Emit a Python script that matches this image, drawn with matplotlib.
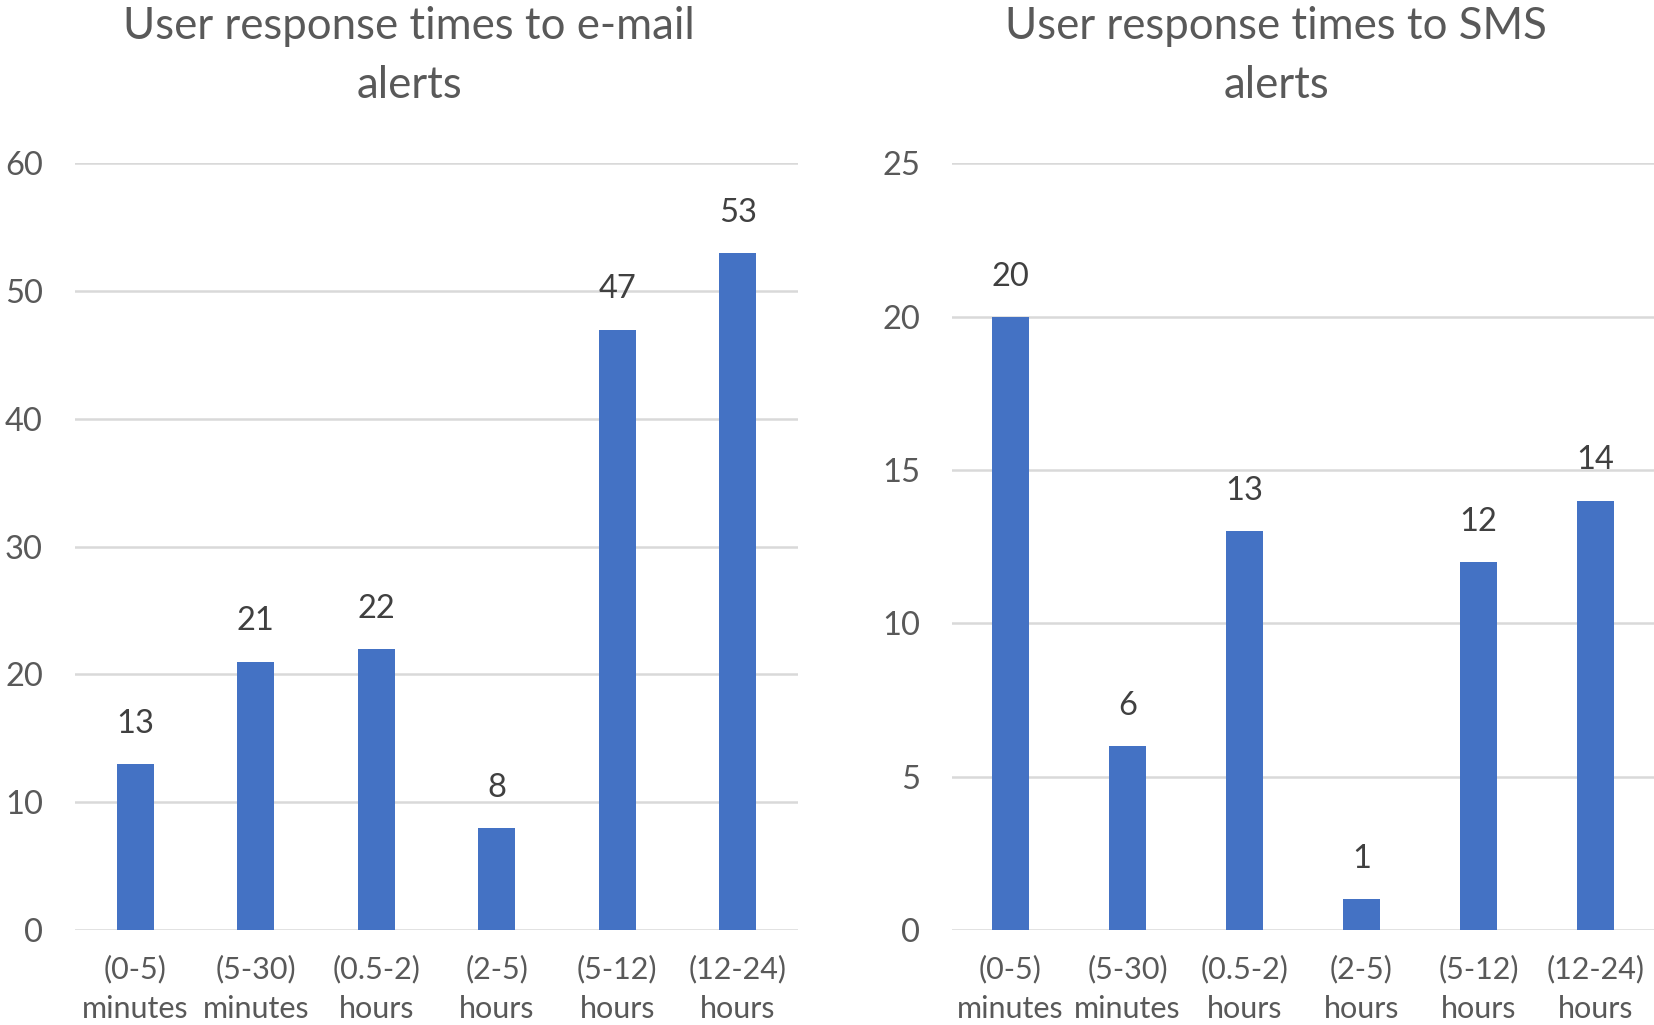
import matplotlib
matplotlib.use("Agg")
import matplotlib.pyplot as plt

plt.rcParams['font.family'] = ['Lato', 'DejaVu Sans']

categories = ["(0-5)\nminutes", "(5-30)\nminutes", "(0.5-2)\nhours",
              "(2-5)\nhours", "(5-12)\nhours", "(12-24)\nhours"]
email_counts = [13, 21, 22, 8, 47, 53]
sms_counts = [20, 6, 13, 1, 12, 14]

email_ticks = [0, 10, 20, 30, 40, 50, 60]
sms_ticks = [0, 5, 10, 15, 20, 25]

bar_color = '#4472C4'
grid_color = '#D9D9D9'
tick_color = '#595959'
label_color = '#404040'

fig = plt.figure(figsize=(16.54, 10.25), dpi=100)
ax1 = fig.add_axes([0.0453, 0.0927, 0.4372, 0.7478])
ax2 = fig.add_axes([0.5756, 0.0927, 0.4244, 0.7478])

def draw(ax, values, yticks, title, title_x):
    x = range(len(values))
    bars = ax.bar(x, values, width=0.31, color=bar_color, zorder=3)
    ax.set_xlim(-0.5, len(values) - 0.5)
    ax.set_ylim(0, yticks[-1])
    ax.set_yticks(yticks)
    ax.set_xticks(list(x))
    ax.set_xticklabels(categories, linespacing=1.5, fontsize=22)
    for s in ax.spines.values():
        s.set_visible(False)
    ax.grid(axis='y', color=grid_color, linewidth=1.8, zorder=0)
    ax.set_axisbelow(True)
    ax.tick_params(axis='both', length=0, labelcolor=tick_color)
    ax.tick_params(axis='y', pad=23, labelsize=23.5)
    ax.tick_params(axis='x', pad=18)
    for b, v in zip(bars, values):
        ax.annotate(str(v), (b.get_x() + b.get_width() / 2, v),
                    xytext=(0, 29), textcoords='offset points',
                    ha='center', va='center', fontsize=23.5, color=label_color)
    fig.text(title_x, 1 - 56 / 1025, title, ha='center', va='center',
             fontsize=31.5, color=tick_color, linespacing=1.55)

draw(ax1, email_counts, email_ticks, "User response times to e-mail\nalerts", 0.2474)
draw(ax2, sms_counts, sms_ticks, "User response times to SMS\nalerts", 0.7716)

fig.savefig("out.png", dpi=100)
